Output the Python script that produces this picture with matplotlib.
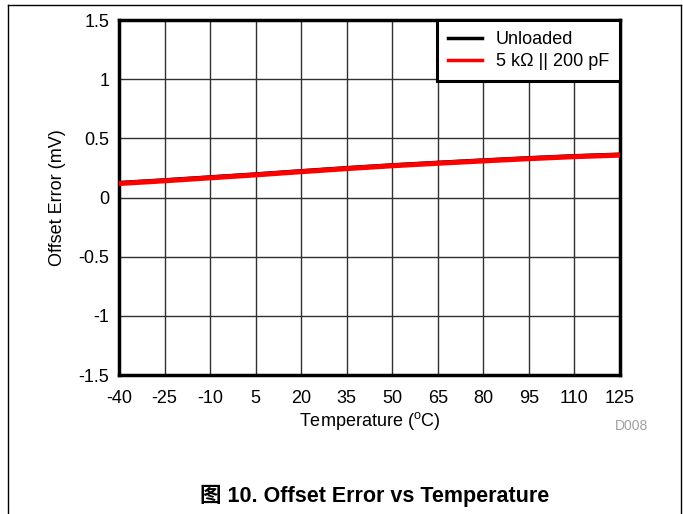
import numpy as np
import matplotlib.pyplot as plt
from matplotlib.lines import Line2D

plt.rcParams['font.family'] = ['Liberation Sans', 'Noto Sans CJK SC', 'DejaVu Sans']
plt.rcParams['axes.unicode_minus'] = False

# dados
temperatura = [-40, -25, -10, 5, 20, 35, 50, 65, 80, 95, 110, 125]
offset_unloaded = [0.122, 0.145, 0.170, 0.195, 0.222, 0.248, 0.272, 0.293, 0.313, 0.332, 0.349, 0.362]
offset_carga = [0.118, 0.141, 0.166, 0.191, 0.218, 0.244, 0.268, 0.289, 0.309, 0.328, 0.345, 0.358]
xticks = [-40, -25, -10, 5, 20, 35, 50, 65, 80, 95, 110, 125]
yticks = [-1.5, -1, -0.5, 0, 0.5, 1, 1.5]
ytick_labels = ['-1.5', '-1', '-0.5', '0', '0.5', '1', '1.5']

fig = plt.figure(figsize=(6.83, 5.14), dpi=100)
ax = fig.add_axes([0.1742, 0.2704, 0.7336, 0.6906])

ax.plot(temperatura, offset_unloaded, color='black', lw=3.2, solid_capstyle='butt', zorder=3)
ax.plot(temperatura, offset_carga, color='#ff0000', lw=3.6, solid_capstyle='butt', zorder=4)

ax.set_xlim(-40, 125)
ax.set_ylim(-1.5, 1.5)
ax.set_xticks(xticks)
ax.set_yticks(yticks)
ax.set_yticklabels(ytick_labels)
ax.tick_params(length=0, labelsize=13)
ax.tick_params(axis='x', pad=11)
ax.tick_params(axis='y', pad=7)
ax.grid(True, color='#303030', lw=1.0)
ax.set_axisbelow(True)
for s in ax.spines.values():
    s.set_linewidth(2.5)

ax.set_xlabel('Temperature ($\\mathregular{^oC}$)', fontsize=13, labelpad=2)
ax.set_ylabel('Offset Error (mV)', fontsize=13, labelpad=9)

handles = [Line2D([], [], color='black', lw=2.5), Line2D([], [], color='#ff0000', lw=2.5)]
leg = ax.legend(handles, ['Unloaded', '5 k\u03a9 || 200 pF'], loc='upper right',
                bbox_to_anchor=(1.0, 1.0), borderaxespad=0, fontsize=13,
                fancybox=False, framealpha=1, edgecolor='black', handlelength=1.9,
                handletextpad=0.75, borderpad=0.6, labelspacing=0.3)
leg.get_frame().set_linewidth(2.2)
leg.set_zorder(10)

fig.text(648 / 683, 1 - 426 / 514, 'D008', color='#a0a0a0', fontsize=10, ha='right', va='center')
fig.text(375 / 683, 1 - 496 / 514, '图 10. Offset Error vs Temperature', fontsize=15.5,
         fontweight='bold', ha='center', va='center')

# moldura da figura
fig.add_artist(Line2D([8 / 683, 8 / 683], [0, 1 - 5 / 514], color='black', lw=1, transform=fig.transFigure))
fig.add_artist(Line2D([681 / 683, 681 / 683], [0, 1 - 5 / 514], color='black', lw=1, transform=fig.transFigure))
fig.add_artist(Line2D([8 / 683, 681 / 683], [1 - 5 / 514, 1 - 5 / 514], color='black', lw=1, transform=fig.transFigure))

fig.savefig('out.png', dpi=100)
plt.close()
